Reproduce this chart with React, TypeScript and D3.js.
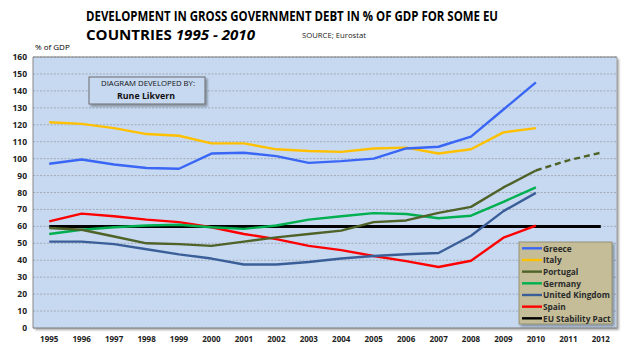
import React from "react";
import * as d3 from "d3";

const years = d3.range(1995, 2013).map(String);
const yTicks = d3.range(0, 161, 10);

const greece = [97, 99.5, 96.5, 94.5, 94, 103, 103.5, 101.5, 97.5, 98.5, 100, 106, 107, 113, 129, 145];
const italy = [121.5, 120.5, 118, 114.5, 113.5, 109, 109, 105.5, 104.5, 104, 106, 106.5, 103, 105.5, 115.5, 118];
const portugal = [59, 58, 54, 50, 49.5, 48.5, 51, 53.5, 55.5, 57.5, 62.5, 63.5, 68, 71.5, 83, 93];
const portugalForecast = [93, 99, 103.5]; // 2010-2012
const germany = [55.5, 58, 59.5, 60.5, 61, 59.5, 58.5, 60.5, 64, 66, 67.8, 67.3, 64.8, 66.3, 74.5, 83];
const uk = [51, 51, 49.5, 46.5, 43.5, 41, 37.5, 37.5, 39, 41, 42.5, 43.5, 44.3, 54.5, 69, 79.8];
const spain = [63, 67.5, 66, 64, 62.5, 59.5, 55.5, 52.5, 48.5, 46, 42.5, 39.5, 36, 39.7, 53.3, 60.5];
const stability = years.map(() => 60);

const seriesNames = ["Greece", "Italy", "Portugal", "Germany", "United Kingdom", "Spain", "EU Stability Pact"];
const seriesValues = [greece, italy, portugal, germany, uk, spain, stability];
const seriesColors = ["#3A66F5", "#FFC000", "#4F6228", "#00B050", "#3A5F98", "#FF0000", "#000000"];

const W = 629, H = 354;
const left = 33, right = 617, top = 57, bottom = 328;

export default function App() {
  const x = d3.scaleBand().domain(years).range([left, right]).paddingInner(0).paddingOuter(0);
  const xc = (i: number) => (x(years[i]) as number) + x.bandwidth() / 2;
  const y = d3.scaleLinear().domain([0, 160]).range([bottom, top]);
  const line = d3.line<number>().x((_, i) => xc(i)).y((v) => y(v));
  const fcLine = d3.line<number>().x((_, i) => xc(i + 15)).y((v) => y(v));
  const font = "'Open Sans', 'Noto Sans', sans-serif";

  const drawOrder = [6, 5, 4, 3, 2, 1, 0];

  return (
    <svg width={W} height={H} style={{ position: "absolute", left: 0, top: 0, background: "#fff" }} fontFamily={font}>
      <defs>
        <filter id="sh" x="-10%" y="-10%" width="130%" height="130%">
          <feDropShadow dx="2" dy="2" stdDeviation="1" floodColor="#000" floodOpacity="0.35" />
        </filter>
      </defs>
      {/* title */}
      <text x={86} y={21} fontSize={13.5} fontWeight="bold" fill="#000" textLength={412} lengthAdjust="spacingAndGlyphs">
        DEVELOPMENT IN GROSS GOVERNMENT DEBT IN % OF GDP FOR SOME EU
      </text>
      <text x={86} y={39.5} fontSize={13.5} fontWeight="bold" fill="#000" textLength={169} lengthAdjust="spacingAndGlyphs">
        COUNTRIES <tspan fontStyle="italic">1995 - 2010</tspan>
      </text>
      <text x={302} y={38} fontSize={7.5} fill="#222" textLength={64} lengthAdjust="spacingAndGlyphs">SOURCE; Eurostat</text>
      <text x={35} y={50} fontSize={8} fill="#000">% of GDP</text>

      {/* plot area */}
      <rect x={left} y={top} width={right - left} height={bottom - top} fill="#C6D9F1" filter="url(#sh)" />
      {yTicks.map((t) => (
        <line key={t} x1={left} x2={right} y1={y(t)} y2={y(t)} stroke="#9aa0a8" strokeWidth={0.8} strokeDasharray="2,1.5" />
      ))}
      <line x1={left} x2={right} y1={top} y2={top} stroke="#7f7f7f" strokeWidth={1} />
      <line x1={right} x2={right} y1={top} y2={bottom} stroke="#a0a0a0" strokeWidth={1} />
      <line x1={left} x2={left} y1={top} y2={bottom} stroke="#868686" strokeWidth={1} />
      <line x1={left} x2={right} y1={bottom} y2={bottom} stroke="#868686" strokeWidth={1} />
      {yTicks.map((t) => (
        <text key={t} x={27} y={y(t) + 3} fontSize={8.5} fontWeight="bold" textAnchor="end" fill="#222">{t}</text>
      ))}
      {years.map((yr, i) => (
        <text key={yr} x={xc(i)} y={342} fontSize={8} fontWeight="bold" textAnchor="middle" fill="#222">{yr}</text>
      ))}

      {/* annotation box */}
      <rect x={89} y={77} width={116} height={27} fill="#C6D9F1" stroke="#6d6d6d" strokeWidth={1} filter="url(#sh)" />
      <text x={101} y={86} fontSize={7.2} fill="#111" textLength={94} lengthAdjust="spacingAndGlyphs">DIAGRAM DEVELOPED BY:</text>
      <text x={117} y={99} fontSize={9.5} fontWeight="bold" fill="#111" textLength={58} lengthAdjust="spacingAndGlyphs">Rune Likvern</text>

      {/* lines */}
      {drawOrder.map((k) => (
        <path key={k} d={line(seriesValues[k]) || ""} fill="none" stroke={seriesColors[k]}
          strokeWidth={k === 6 ? 3 : 2.4} strokeLinejoin="round" />
      ))}
      <path d={fcLine(portugalForecast) || ""} fill="none" stroke={seriesColors[2]} strokeWidth={2.4} strokeDasharray="6,4" />

      {/* legend */}
      <rect x={519} y={242} width={93} height={82} fill="#C4BD97" stroke="#8a8468" strokeWidth={0.8} filter="url(#sh)" />
      {seriesNames.map((n, i) => {
        const ly = 248.3 + i * 11.67;
        return (
          <g key={n}>
            <line x1={522} x2={542} y1={ly} y2={ly} stroke={seriesColors[i]} strokeWidth={2.4} />
            <text x={543} y={ly + 3.2} fontSize={8.3} fontWeight="bold" fill="#2b2b2b">{n}</text>
          </g>
        );
      })}
    </svg>
  );
}
